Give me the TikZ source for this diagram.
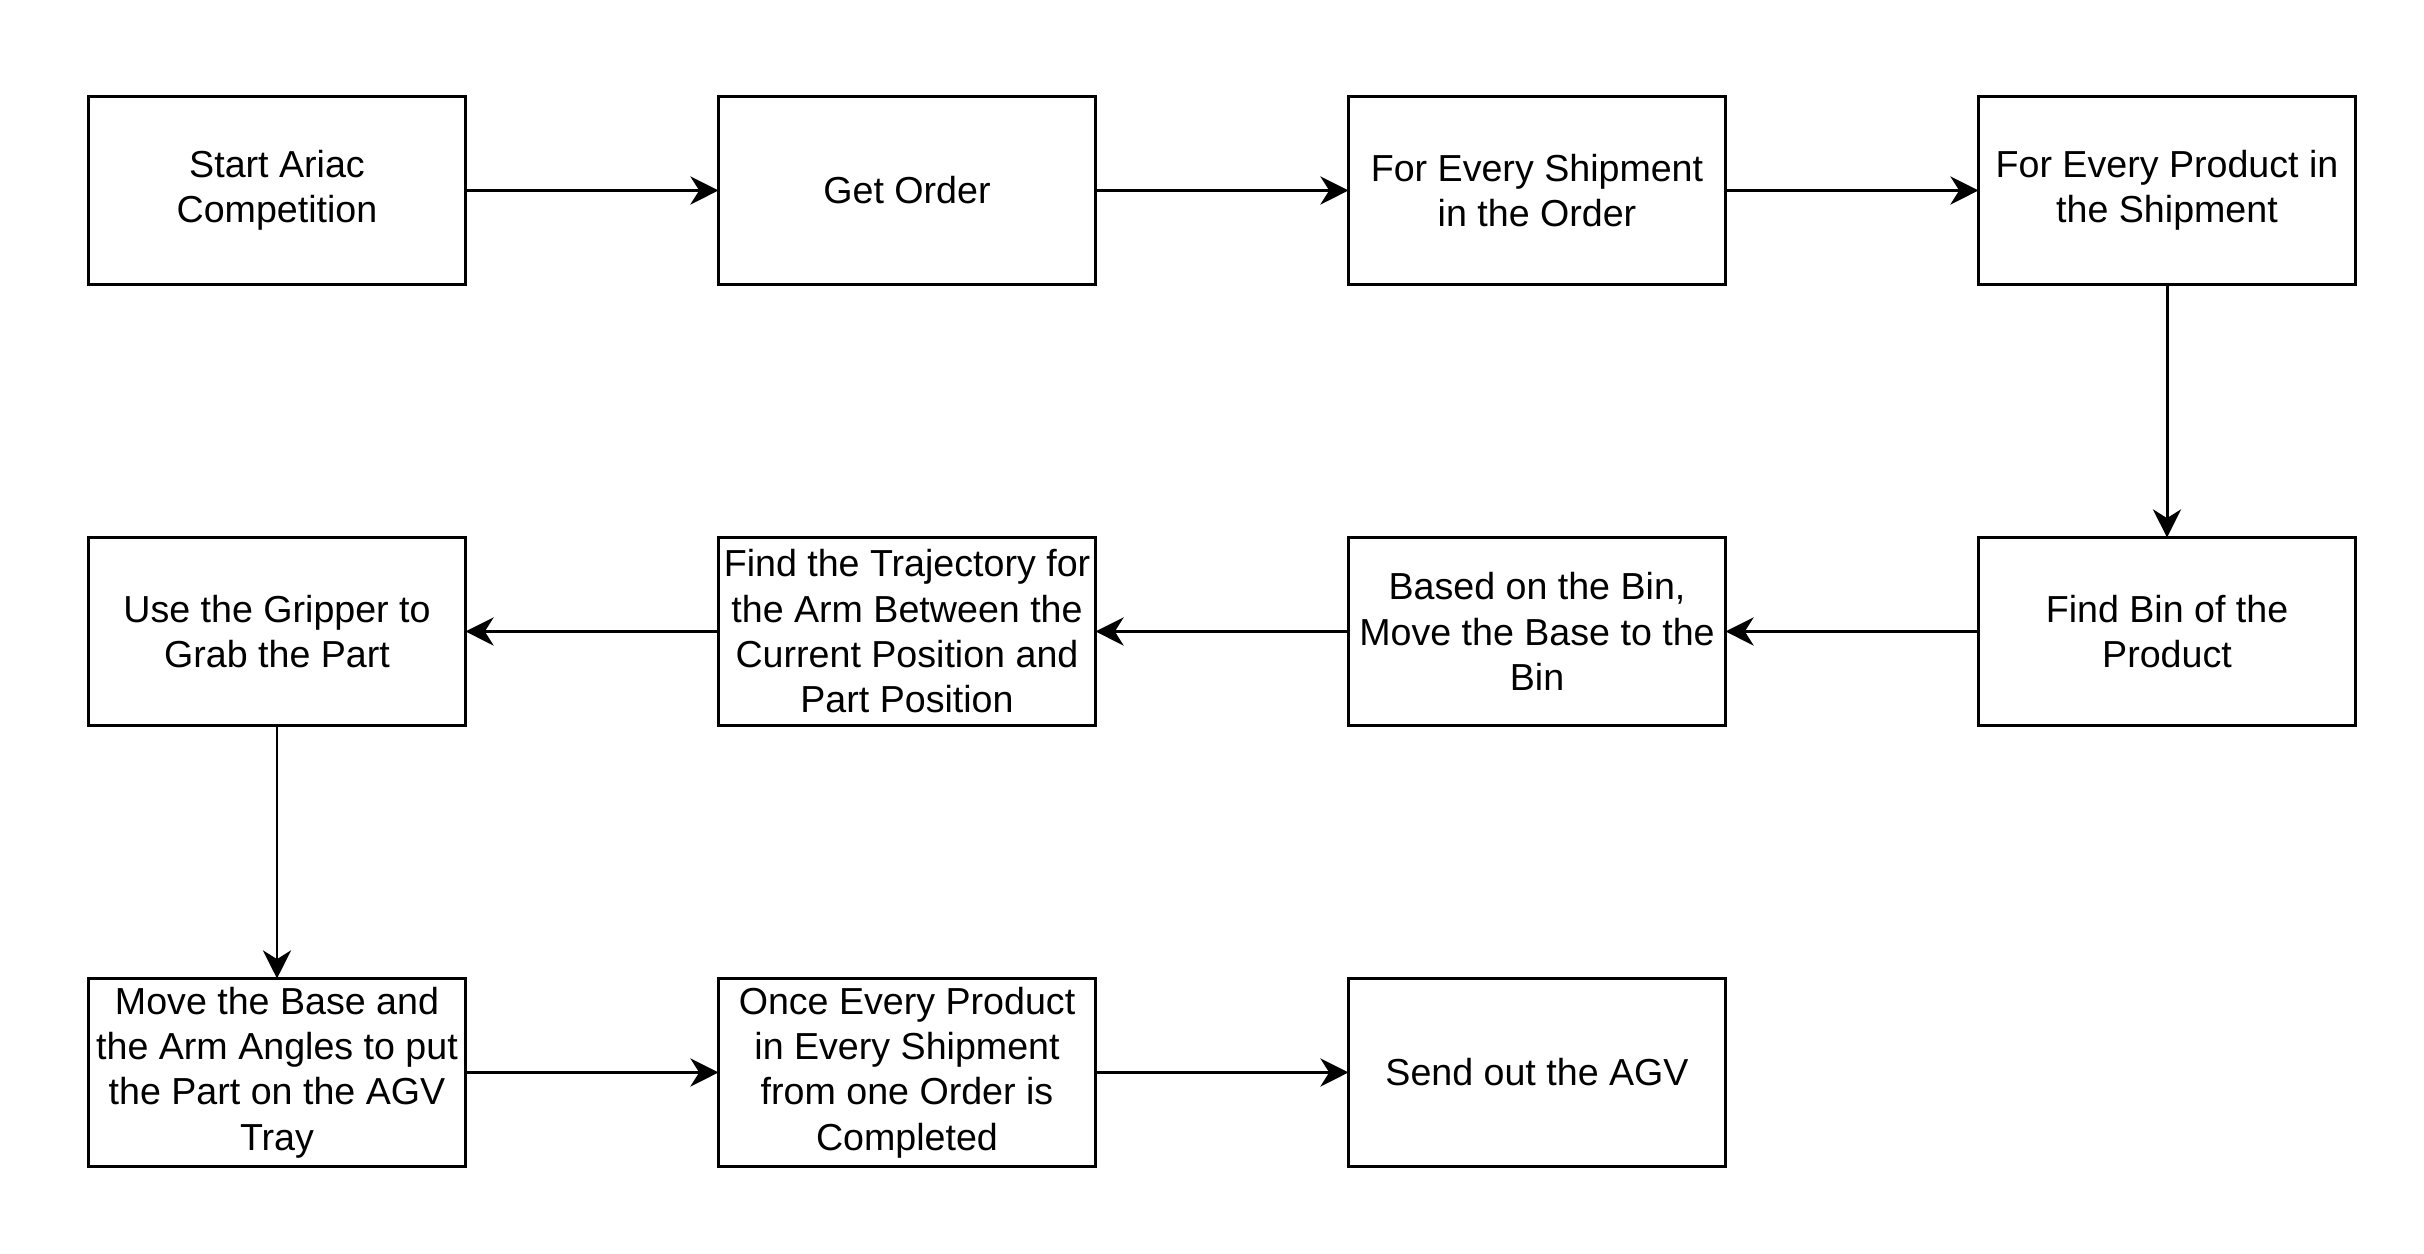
\documentclass[tikz,border=0pt]{standalone}
\usepackage{fontspec}
\setmainfont{Liberation Sans}
\usetikzlibrary{arrows.meta,positioning}

\begin{document}
\begin{tikzpicture}[node distance=2.53cm,>={Stealth[length=8pt,width=8pt,inset=2.5pt]},line width=0.85pt]
  \tikzstyle{stepbox}=[rectangle,draw=black,fill=white,minimum width=3.77cm,
              minimum height=1.88cm,inner sep=0pt,outer sep=0pt,align=center,
              font=\fontsize{10.7}{12.9}\selectfont]
  \tikzstyle{flow}=[->]
    \useasboundingbox (0,0) rectangle (24.24,12.54);
    % top row
    \node [stepbox,anchor=north west] (start) at (0.885,11.575) {Start Ariac\\Competition};
    \node [stepbox] (order) [right=of start] {Get Order};
    \node [stepbox] (shipment) [right=of order] {For Every Shipment\\in the Order};
    \node [stepbox] (product) [right=of shipment] {For Every Product in\\the Shipment};
    % middle row
    \node [stepbox] (findbin) [below=of product] {Find Bin of the\\Product};
    \node [stepbox] (movebase) [left=of findbin] {Based on the Bin,\\Move the Base to the\\Bin};
    \node [stepbox] (trajectory) [left=of movebase] {Find the Trajectory for\\the Arm Between the\\Current Position and\\Part Position};
    \node [stepbox] (gripper) [left=of trajectory] {Use the Gripper to\\Grab the Part};
    % bottom row
    \node [stepbox] (placepart) [below=of gripper] {Move the Base and\\the Arm Angles to put\\the Part on the AGV\\Tray};
    \node [stepbox] (completed) [right=of placepart] {Once Every Product\\in Every Shipment\\from one Order is\\Completed};
    \node [stepbox] (sendagv) [right=of completed] {Send out the AGV};

    \draw [flow] (start) -- (order);
    \draw [flow] (order) -- (shipment);
    \draw [flow] (shipment) -- (product);
    \draw [flow] (product) -- (findbin);
    \draw [flow] (findbin) -- (movebase);
    \draw [flow] (movebase) -- (trajectory);
    \draw [flow] (trajectory) -- (gripper);
    \draw [flow] (gripper) -- (placepart);
    \draw [flow] (placepart) -- (completed);
    \draw [flow] (completed) -- (sendagv);
\end{tikzpicture}
\end{document}
